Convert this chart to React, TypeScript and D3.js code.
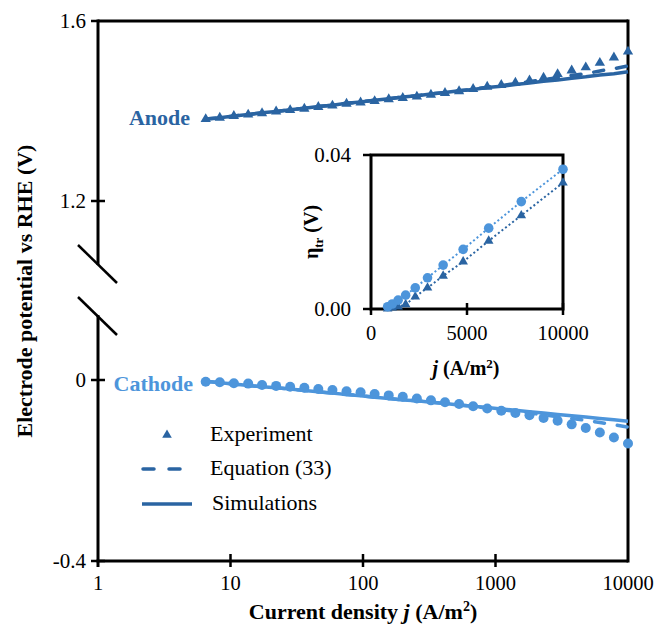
import React from 'react';
import * as d3 from 'd3';

// ---------- data ----------
const jValues = [6.5, 8.3, 10.6, 13.6, 17.3, 22.1, 28.2, 36.1, 46.0, 58.8, 75.1, 95.9, 122.4, 156.4, 199.6, 255.0, 325.6, 415.8, 531, 678, 866, 1106, 1413, 1805, 2305, 2943, 3758, 4800, 6130, 7828, 10000];

const anodeExperiment = [1.382, 1.385, 1.389, 1.392, 1.395, 1.399, 1.402, 1.405, 1.409, 1.412, 1.416, 1.419, 1.422, 1.426, 1.429, 1.432, 1.436, 1.440, 1.444, 1.449, 1.454, 1.458, 1.463, 1.468, 1.474, 1.482, 1.490, 1.497, 1.507, 1.519, 1.532];
const anodeSimulation = [1.382, 1.385, 1.389, 1.392, 1.396, 1.399, 1.403, 1.406, 1.410, 1.413, 1.417, 1.420, 1.424, 1.427, 1.431, 1.434, 1.438, 1.441, 1.445, 1.448, 1.452, 1.455, 1.459, 1.462, 1.466, 1.469, 1.473, 1.476, 1.480, 1.483, 1.487];
const anodeEquation = [1.382, 1.385, 1.389, 1.392, 1.396, 1.399, 1.403, 1.406, 1.410, 1.413, 1.417, 1.420, 1.424, 1.427, 1.431, 1.434, 1.438, 1.441, 1.445, 1.448, 1.453, 1.4565, 1.461, 1.465, 1.470, 1.474, 1.479, 1.483, 1.489, 1.494, 1.500];

const cathodeExperiment = [-0.004, -0.005, -0.007, -0.008, -0.011, -0.013, -0.015, -0.017, -0.020, -0.022, -0.025, -0.027, -0.031, -0.034, -0.037, -0.041, -0.045, -0.049, -0.053, -0.058, -0.063, -0.068, -0.073, -0.078, -0.084, -0.090, -0.098, -0.106, -0.116, -0.127, -0.1405];
const cathodeSimulation = [-0.003, -0.006, -0.009, -0.012, -0.015, -0.017, -0.020, -0.023, -0.026, -0.029, -0.032, -0.035, -0.038, -0.041, -0.044, -0.046, -0.049, -0.052, -0.055, -0.058, -0.061, -0.064, -0.067, -0.070, -0.073, -0.076, -0.079, -0.082, -0.085, -0.088, -0.091];
const cathodeEquation = [-0.003, -0.006, -0.009, -0.012, -0.015, -0.017, -0.020, -0.023, -0.026, -0.029, -0.032, -0.035, -0.038, -0.041, -0.044, -0.046, -0.049, -0.052, -0.055, -0.058, -0.062, -0.0655, -0.069, -0.073, -0.077, -0.081, -0.085, -0.089, -0.094, -0.099, -0.104];

const xTicks = [1, 10, 100, 1000, 10000];
const xTickLabels = ['1', '10', '100', '1000', '10000'];
const yTicks = [-0.4, 0, 1.2, 1.6];
const yTickLabels = ['-0.4', '0', '1.2', '1.6'];

const insetJ = [866, 1106, 1413, 1805, 2305, 2943, 3758, 4800, 6130, 7828, 10000];
const insetCathode = [0.0006, 0.0013, 0.0023, 0.0036, 0.0055, 0.0081, 0.0114, 0.0155, 0.0210, 0.0279, 0.0363];
const insetAnode = [0.0001, 0.0003, 0.0006, 0.0012, 0.0032, 0.0055, 0.0086, 0.0123, 0.0177, 0.0243, 0.0328];
const insetXTicks = [0, 5000, 10000];
const insetXTickLabels = ['0', '5000', '10000'];
const insetYTicks = [0, 0.04];
const insetYTickLabels = ['0.00', '0.04'];

const legendLabels = ['Experiment', 'Equation (33)', 'Simulations'];

// ---------- styles ----------
const DARK = '#2A64A2';
const LIGHT = '#4D95DB';
const FONT = "'Liberation Serif', 'Times New Roman', serif";

export default function App() {
  const W = 659, H = 630;
  const left = 98, right = 628, top = 21, bottom = 561;

  const x = d3.scaleLog().domain([1, 10000]).range([left, right]);
  const y = d3.scaleLinear().domain([-0.4, 0, 1.2, 1.6]).range([bottom, 380, 201, top]);

  const line = (vals: number[]) =>
    d3.line<number>().x((_, i) => x(jValues[i])).y((v) => y(v))(vals) as string;

  const tri = d3.symbol().type(d3.symbolTriangle).size(46)() as string;
  const triSmall = d3.symbol().type(d3.symbolTriangle).size(40)() as string;

  // inset
  const ix = d3.scaleLinear().domain([0, 10000]).range([371, 563]);
  const iy = d3.scaleLinear().domain([0, 0.04]).range([309, 155]);
  const iline = (vals: number[]) =>
    d3.line<number>().x((_, i) => ix(insetJ[i])).y((v) => iy(v))(vals) as string;

  return (
    <svg width={W} height={H} style={{ position: 'absolute', left: 0, top: 0, background: '#fff' }} fontFamily={FONT}>
      <rect x={0} y={0} width={W} height={H} fill="#fff" />

      {/* frame: top, right, bottom */}
      <line x1={left} y1={top} x2={right} y2={top} stroke="#000" strokeWidth={3} />
      <line x1={right} y1={top - 1.5} x2={right} y2={bottom + 1.5} stroke="#000" strokeWidth={3} />
      <line x1={left - 1.5} y1={bottom} x2={right} y2={bottom} stroke="#000" strokeWidth={3} />
      {/* left axis with break */}
      <line x1={left} y1={top - 1.5} x2={left} y2={265} stroke="#000" strokeWidth={3} />
      <line x1={left} y1={315} x2={left} y2={bottom + 6} stroke="#000" strokeWidth={3} />
      <line x1={78} y1={245} x2={117} y2={283} stroke="#000" strokeWidth={2.5} />
      <line x1={78} y1={297} x2={117} y2={335} stroke="#000" strokeWidth={2.5} />

      {/* y ticks */}
      {yTicks.map((t, i) => (
        <g key={'yt' + i}>
          <line x1={left - 7} x2={t === 1.6 ? left : left + 7} y1={y(t)} y2={y(t)} stroke="#000" strokeWidth={2.5} />
          <text x={86} y={y(t) + 7} textAnchor="end" fontSize={21}>{yTickLabels[i]}</text>
        </g>
      ))}
      {/* x ticks */}
      {xTicks.map((t, i) => (
        <g key={'xt' + i}>
          {i > 0 && i < xTicks.length - 1 && (
            <line x1={x(t)} x2={x(t)} y1={bottom - 7} y2={bottom + 6} stroke="#000" strokeWidth={2.5} />
          )}
          <text x={x(t)} y={590} textAnchor="middle" fontSize={20.5}>{xTickLabels[i]}</text>
        </g>
      ))}

      {/* axis titles */}
      <text x={363} y={619} textAnchor="middle" fontSize={22} fontWeight="bold">
        Current density <tspan fontStyle="italic">j</tspan> (A/m<tspan dy={-8} fontSize={14}>2</tspan><tspan dy={8}>)</tspan>
      </text>
      <text transform="translate(32,291) rotate(-90)" textAnchor="middle" fontSize={22} fontWeight="bold">
        Electrode potential vs RHE (V)
      </text>

      {/* series labels */}
      <text x={190} y={125} textAnchor="end" fontSize={22} fontWeight="bold" fill={DARK}>Anode</text>
      <text x={193} y={391} textAnchor="end" fontSize={22} fontWeight="bold" fill={LIGHT}>Cathode</text>

      {/* anode */}
      <path d={line(anodeEquation)} fill="none" stroke={DARK} strokeWidth={3.5} strokeDasharray="10 13" strokeLinecap="round" />
      <path d={line(anodeSimulation)} fill="none" stroke={DARK} strokeWidth={3.5} />
      {anodeExperiment.map((v, i) => (
        <path key={'ae' + i} d={tri} transform={`translate(${x(jValues[i])},${y(v)})`} fill={DARK} />
      ))}

      {/* cathode */}
      <path d={line(cathodeEquation)} fill="none" stroke={LIGHT} strokeWidth={3.5} strokeDasharray="10 13" strokeLinecap="round" />
      <path d={line(cathodeSimulation)} fill="none" stroke={LIGHT} strokeWidth={3.5} />
      {cathodeExperiment.map((v, i) => (
        <circle key={'ce' + i} cx={x(jValues[i])} cy={y(v)} r={5} fill={LIGHT} />
      ))}

      {/* legend */}
      <path d={triSmall} transform="translate(167,435)" fill={DARK} />
      <text x={210} y={441} fontSize={22}>{legendLabels[0]}</text>
      <line x1={143} x2={182} y1={469} y2={469} stroke={DARK} strokeWidth={3.5} strokeDasharray="11 15" strokeLinecap="round" />
      <text x={210} y={475} fontSize={22}>{legendLabels[1]}</text>
      <line x1={142} x2={192} y1={504} y2={504} stroke={DARK} strokeWidth={3.5} />
      <text x={212} y={510} fontSize={22}>{legendLabels[2]}</text>

      {/* inset */}
      <rect x={371} y={155} width={192} height={154} fill="#fff" stroke="#000" strokeWidth={3} />
      {insetYTicks.map((t, i) => (
        <g key={'iyt' + i}>
          <line x1={363} x2={371} y1={iy(t)} y2={iy(t)} stroke="#000" strokeWidth={2.5} />
          <text x={351} y={iy(t) + 7} textAnchor="end" fontSize={21}>{insetYTickLabels[i]}</text>
        </g>
      ))}
      {insetXTicks.map((t, i) => (
        <g key={'ixt' + i}>
          <line x1={ix(t)} x2={ix(t)} y1={i === 0 ? 309 : 303} y2={315} stroke="#000" strokeWidth={2.5} />
          <text x={ix(t)} y={340} textAnchor="middle" fontSize={20.5}>{insetXTickLabels[i]}</text>
        </g>
      ))}
      <path d={iline(insetAnode)} fill="none" stroke={DARK} strokeWidth={2} strokeDasharray="2 2.5" />
      {insetAnode.map((v, i) => (
        <path key={'ia' + i} d={triSmall} transform={`translate(${ix(insetJ[i])},${iy(v)})`} fill={DARK} />
      ))}
      <path d={iline(insetCathode)} fill="none" stroke={LIGHT} strokeWidth={2} strokeDasharray="2 2.5" />
      {insetCathode.map((v, i) => (
        <circle key={'ic' + i} cx={ix(insetJ[i])} cy={iy(v)} r={4.8} fill={LIGHT} />
      ))}
      <text x={466} y={375} textAnchor="middle" fontSize={20} fontWeight="bold">
        <tspan fontStyle="italic">j</tspan> (A/m<tspan dy={-7} fontSize={13}>2</tspan><tspan dy={7}>)</tspan>
      </text>
      <text transform="translate(318,232) rotate(-90)" textAnchor="middle" fontSize={20} fontWeight="bold">
        η<tspan dy={5} fontSize={13}>tr</tspan><tspan dy={-5}> (V)</tspan>
      </text>
    </svg>
  );
}
